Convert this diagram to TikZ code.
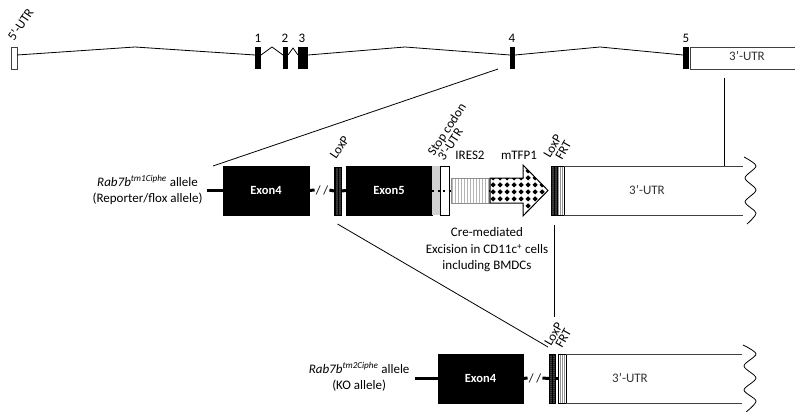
\documentclass[tikz,border=0pt]{standalone}
\usepackage{fontspec}
\setmainfont{Carlito}
\usetikzlibrary{patterns,calc}
\pgfdeclarepatternformonly{loxdots}{\pgfqpoint{0pt}{0pt}}{\pgfqpoint{2.4pt}{2.4pt}}{\pgfqpoint{2.4pt}{2.4pt}}{\pgfpathcircle{\pgfqpoint{1.2pt}{1.2pt}}{0.65pt}\pgfusepath{fill}}
\pgfdeclarepatternformonly{vstripe}{\pgfqpoint{0pt}{0pt}}{\pgfqpoint{1.6pt}{1pt}}{\pgfqpoint{1.6pt}{1pt}}{\pgfsetlinewidth{0.6pt}\pgfpathmoveto{\pgfqpoint{0.8pt}{-0.1pt}}\pgfpathlineto{\pgfqpoint{0.8pt}{1.1pt}}\pgfusepath{stroke}}
\pgfdeclarepatternformonly{irestripe}{\pgfqpoint{0pt}{0pt}}{\pgfqpoint{3.4pt}{1pt}}{\pgfqpoint{3.4pt}{1pt}}{\pgfsetlinewidth{0.8pt}\pgfpathmoveto{\pgfqpoint{1.7pt}{-0.1pt}}\pgfpathlineto{\pgfqpoint{1.7pt}{1.1pt}}\pgfusepath{stroke}}
\pgfdeclarepatternformonly{diamondgrid}{\pgfqpoint{0pt}{0pt}}{\pgfqpoint{7pt}{7pt}}{\pgfqpoint{7pt}{7pt}}{\pgfpathmoveto{\pgfqpoint{3.5pt}{0.6pt}}\pgfpathlineto{\pgfqpoint{6.4pt}{3.5pt}}\pgfpathlineto{\pgfqpoint{3.5pt}{6.4pt}}\pgfpathlineto{\pgfqpoint{0.6pt}{3.5pt}}\pgfpathclose\pgfusepath{fill}}
\newcommand\bx[7]{\node[#6, minimum width={#4-#2}, minimum height={#5-#3}] (#1) at (#2,#3) {#7};}
\begin{document}
\begin{tikzpicture}[x=1pt,y=-1pt,
  font=\fontsize{13}{16.5}\selectfont,
  box/.style={anchor=north west, inner sep=0pt, outer sep=0pt, line width=0.8pt},
  exon/.style={box, fill=black, draw=black, text=white, font=\fontsize{12.5}{15}\selectfont\bfseries},
  blk/.style={box, fill=black},
  lox/.style={box, draw=black, preaction={fill=black}, pattern=loxdots, pattern color=white},
  frt/.style={box, draw=black, preaction={fill=white}, pattern=vstripe, pattern color=black},
  bb/.style={line width=3pt},
  conn/.style={line width=0.8pt},
  utrline/.style={line width=0.9pt, draw=black!75},
  rot/.style={anchor=base west, inner sep=0pt},
  sl/.style={inner sep=1pt, font=\fontsize{12.5}{15}\selectfont}
]
\useasboundingbox (0,0) rectangle (795,412);
% ---------- top gene ----------
\bx{utr5}{11}{47}{17}{69}{box,draw=black!75,fill=white}{}
\bx{e1}{255}{47}{261}{69}{blk}{}
\bx{e2}{283}{47}{288}{69}{blk}{}
\bx{e3}{298}{47}{308}{69}{blk}{}
\bx{e4}{510}{47}{515}{69}{blk}{}
\bx{e5}{683}{47}{689}{69}{blk}{}
\bx{tutr}{690}{47}{797}{69}{box,draw=black!75,fill=white}{}
\node[text=black!80] (tutrl) at (747,56) {3’-UTR};
\draw[conn] ([yshift=3pt]utr5.east) -- (135,47) -- ([yshift=3pt]e1.west);
\draw[conn] ([yshift=3pt]e1.east) -- (272,47) -- ([yshift=3pt]e2.west);
\draw[conn] ([yshift=3pt]e2.east) -- (293,48) -- ([yshift=3pt]e3.west);
\draw[conn] ([yshift=3pt]e3.east) -- (405,47) -- ([yshift=3pt]e4.west);
\draw[conn] ([yshift=3pt]e4.east) -- (600,47) -- ([yshift=3pt]e5.west);
\node (l1) at (258,38) {1};
\node (l2) at (285,38) {2};
\node (l3) at (302,38) {3};
\node (l4) at (512,38) {4};
\node (l5) at (686,38) {5};
\node[rot, rotate=56] (l5u) at (14,42) {5’-UTR};
% ---------- middle allele ----------
\node[align=center, anchor=east] (lab1) at (206,190) {\textit{Rab7b}\textsuperscript{\textit{tm1Ciphe}} allele\\(Reporter/flox allele)};
\bx{m4}{223}{166}{309}{215}{exon}{Exon4}
\node[sl] (sl1) at (322,190) {/ /};
\bx{mlox}{334}{167}{341}{215}{lox}{}
\bx{m5}{346}{166}{432}{215}{exon}{Exon5}
\bx{stop}{432}{166}{440}{215}{box,fill=black!18}{}
\bx{mu3}{440}{166}{449}{215}{box,draw=black,fill=white}{}
\bx{ires}{451}{178}{489}{203}{box,draw=black!45,preaction={fill=white},pattern=irestripe,pattern color=black!45}{}
\coordinate (tfpt) at (490,190.5);
\coordinate (tfph) at (548,190.5);
\draw[line width=1pt, preaction={fill=white}, pattern=diamondgrid, pattern color=black]
  (tfpt |- ires.north) -- (523,178) -- (523,165) -- (tfph) -- (523,216) -- (523,203) -- (tfpt |- ires.south) -- cycle;
\bx{mlox2}{551}{166}{557}{215}{lox}{}
\bx{mfrt}{557}{166}{564}{215}{frt}{}
\bx{mutr}{564}{166}{743}{215}{box}{}
\node[text=black!80] (mutrl) at (647,190) {3’-UTR};
\draw[utrline] (mfrt.north east) -- (mutr.north east);
\draw[utrline] (mfrt.south east) -- (mutr.south east);
\draw[conn] plot[smooth] coordinates {(744,157) (756,166) (745,178) (756,190) (745,202) (756,213) (747,224)};
\draw[bb] (207,190.5) -- (m4.west);
\draw[bb] (m4.east) -- (sl1.west);
\draw[bb] (sl1.east) -- (mlox.west);
\draw[bb] (mlox.east) -- (m5.west);
\draw[line width=2pt, dash pattern=on 2pt off 3.5pt] (m5.east) -- (ires.west);
\draw[line width=2pt] (ires.east) -- (tfpt);
\node[rot, rotate=56] (mloxl) at (336,160) {LoxP};
\node[rot, rotate=57] (stopl) at (434,157) {Stop codon};
\node[rot, rotate=57] (u3l) at (444,162) {3’-UTR};
\node (iresl) at (470,155) {IRES2};
\node (tfpl) at (519,155) {mTFP1};
\node[rot, rotate=60] (mlox2l) at (550,159) {LoxP};
\node[rot, rotate=60] (mfrtl) at (562,161) {FRT};
\node[align=center] (cre) at (487,250) {Cre-mediated\\Excision in CD11c\textsuperscript{+} cells\\including BMDCs};
% ---------- bottom allele ----------
\node[align=center, anchor=east] (lab2) at (413,377) {\textit{Rab7b}\textsuperscript{\textit{tm2Ciphe}} allele\\(KO allele)};
\bx{b4}{438}{354}{523}{403}{exon}{Exon4}
\node[sl] (sl2) at (535,378) {/ /};
\bx{blox}{549}{354}{555}{403}{lox}{}
\bx{bfrt}{558}{354}{566}{403}{frt}{}
\bx{butr}{566}{354}{742}{403}{box}{}
\node[text=black!80] (butrl) at (630,378) {3’-UTR};
\draw[utrline] (bfrt.north east) -- (butr.north east);
\draw[utrline] (bfrt.south east) -- (butr.south east);
\draw[conn] plot[smooth] coordinates {(743,345) (756,354) (744,366) (756,378) (744,390) (756,401) (746,412)};
\draw[bb] (415,378.5) -- (b4.west);
\draw[bb] (b4.east) -- (sl2.west);
\draw[bb] (sl2.east) -- (blox.west);
\draw[bb] (blox.east) -- (bfrt.west);
\node[rot, rotate=60] (bloxl) at (551,347) {LoxP};
\node[rot, rotate=60] (bfrtl) at (562,349) {FRT};
% ---------- connectors ----------
\draw[conn] ([xshift=-12pt]e4.south west) -- ([xshift=-10pt]m4.north west);
\coordinate (vtop) at (724,78);
\draw[conn] (vtop) -- (vtop |- mutr.north);
\coordinate (vm1) at (554,225);
\coordinate (vm2) at (554,317);
\draw[conn] (vm1) -- (vm2);
\draw[conn] ([yshift=-9pt]mlox.south) -- ([xshift=-1pt,yshift=7pt]blox.north west);
\end{tikzpicture}
\end{document}
